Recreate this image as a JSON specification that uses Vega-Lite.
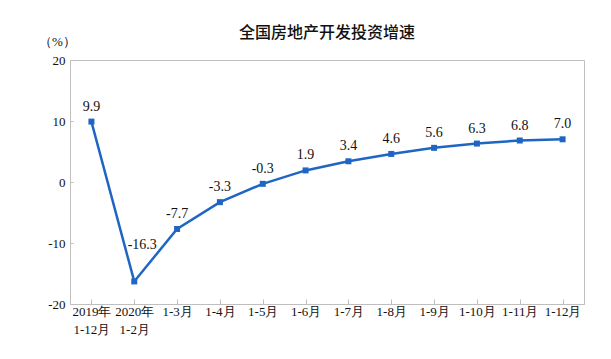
{
  "$schema": "https://vega.github.io/schema/vega-lite/v6.json",
  "width": 514,
  "height": 244,
  "autosize": {"type": "none"},
  "padding": {"left": 70, "top": 60, "right": 27, "bottom": 55},
  "background": "white",
  "title": {
    "text": "全国房地产开发投资增速",
    "font": "Noto Sans CJK SC",
    "fontSize": 16,
    "fontWeight": 500,
    "color": "#111111",
    "anchor": "middle",
    "frame": "group",
    "offset": -6
  },
  "config": {
    "view": {"stroke": "#bfbfbf", "strokeWidth": 1},
    "axis": {
      "labelFont": "Liberation Serif",
      "labelFontSize": 13,
      "labelColor": "#111111",
      "domainColor": "#bfbfbf",
      "tickColor": "#bfbfbf",
      "grid": false
    }
  },
  "data": {
    "values": [
      {"period": "2019年\n1-12月", "value": 9.9},
      {"period": "2020年\n1-2月", "value": -16.3},
      {"period": "1-3月", "value": -7.7},
      {"period": "1-4月", "value": -3.3},
      {"period": "1-5月", "value": -0.3},
      {"period": "1-6月", "value": 1.9},
      {"period": "1-7月", "value": 3.4},
      {"period": "1-8月", "value": 4.6},
      {"period": "1-9月", "value": 5.6},
      {"period": "1-10月", "value": 6.3},
      {"period": "1-11月", "value": 6.8},
      {"period": "1-12月", "value": 7.0}
    ]
  },
  "encoding": {
    "x": {
      "field": "period",
      "type": "nominal",
      "sort": null,
      "scale": {"paddingInner": 0, "paddingOuter": 0},
      "axis": {
        "title": null,
        "labelAngle": 0,
        "labelExpr": "split(datum.label, '\\n')",
        "labelPadding": 6,
        "labelLineHeight": 18,
        "bandPosition": 0,
        "tickSize": -5,
        "labelBaseline": "top"
      }
    },
    "y": {
      "field": "value",
      "type": "quantitative",
      "scale": {"domain": [-20, 20], "nice": false},
      "axis": {
        "values": [-20, -10, 0, 10, 20],
        "labelExpr": "replace(datum.label, '−', '-')",
        "title": "（%）",
        "titleAngle": 0,
        "titleFont": "Liberation Serif",
        "titleFontSize": 13,
        "titleFontWeight": "normal",
        "titleColor": "#111111",
        "titleX": -13,
        "titleY": -12,
        "titleAlign": "center",
        "tickSize": -3,
        "labelPadding": 8
      }
    }
  },
  "layer": [
    {
      "mark": {"type": "line", "color": "#1f66c4", "strokeWidth": 2.5}
    },
    {
      "mark": {"type": "point", "shape": "square", "filled": true, "size": 36, "color": "#1f66c4", "opacity": 1}
    },
    {
      "transform": [{"filter": "datum.value > -10"}],
      "mark": {
        "type": "text",
        "dy": -15,
        "font": "Liberation Serif",
        "fontSize": 14,
        "color": "#111111",
        "text": {"expr": "replace(format(datum.value, '.1f'), '−', '-')"}
      }
    },
    {
      "transform": [{"filter": "datum.value <= -10"}],
      "mark": {
        "type": "text",
        "dy": -36,
        "dx": 8,
        "font": "Liberation Serif",
        "fontSize": 14,
        "color": "#111111",
        "text": {"expr": "replace(format(datum.value, '.1f'), '−', '-')"}
      }
    }
  ]
}
